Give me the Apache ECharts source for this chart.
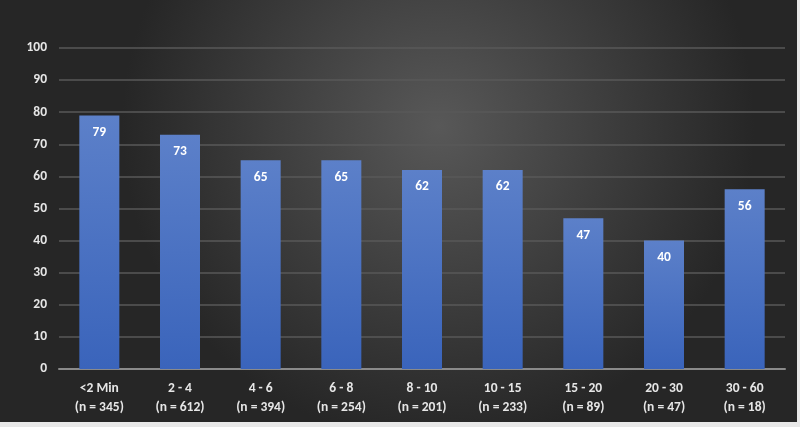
<!DOCTYPE html>
<html><head><meta charset="utf-8">
<script src="https://cdn.jsdelivr.net/npm/echarts@6/dist/echarts.min.js"></script>
<style>html,body{margin:0;padding:0;background:#e8e8e8;}#c{width:800px;height:427px;}</style>
</head><body><div id="c"></div>
<script>
var categories = ['<2 Min', '2 - 4', '4 - 6', '6 - 8', '8 - 10', '10 - 15', '15 - 20', '20 - 30', '30 - 60'];
var counts = ['345', '612', '394', '254', '201', '233', '89', '47', '18'];
var values = [79, 73, 65, 65, 62, 62, 47, 40, 56];
var yTicks = [0, 10, 20, 30, 40, 50, 60, 70, 80, 90, 100];

var labels = categories.map(function (c, i) { return c + '\n(n = ' + counts[i] + ')'; });
var chart = echarts.init(document.getElementById('c'));
var fontFam = 'Carlito, "Open Sans", "Liberation Sans", sans-serif';
chart.setOption({
  backgroundColor: 'transparent',
  graphic: [{
    type: 'rect', left: 0, top: 0, z: -10, silent: true,
    shape: { width: 797, height: 422 },
    style: {
      fill: {
        type: 'radial', x: 0.55, y: 0.3, r: 0.75,
        colorStops: [{ offset: 0, color: '#585858' }, { offset: 0.6, color: '#3a3a3a' }, { offset: 1, color: '#262626' }]
      }
    }
  }],
  grid: { left: 59, right: 15, top: 48, bottom: 58 },
  xAxis: {
    type: 'category', data: labels,
    axisLine: { lineStyle: { color: '#8a8a8a', width: 2 } },
    axisTick: { show: false },
    axisLabel: { color: '#e6e6e6', fontSize: 13.5, fontWeight: 'bold', fontFamily: fontFam, lineHeight: 19, margin: 10 }
  },
  yAxis: {
    type: 'value', min: yTicks[0], max: yTicks[yTicks.length - 1], interval: 10,
    axisLine: { show: false }, axisTick: { show: false },
    axisLabel: { color: '#e6e6e6', fontSize: 13.5, fontWeight: 'bold', fontFamily: fontFam, margin: 12 },
    splitLine: { lineStyle: { color: '#585858', width: 1.5 } }
  },
  series: [{
    type: 'bar', data: values, barWidth: 40,
    itemStyle: {
      color: { type: 'linear', x: 0, y: 0, x2: 0, y2: 1,
        colorStops: [{ offset: 0, color: '#5c80c9' }, { offset: 1, color: '#3a64bb' }] }
    },
    label: { show: true, position: 'insideTop', distance: 10, color: '#ffffff', fontSize: 13.5, fontWeight: 'bold', fontFamily: fontFam }
  }]
});
</script></body></html>
